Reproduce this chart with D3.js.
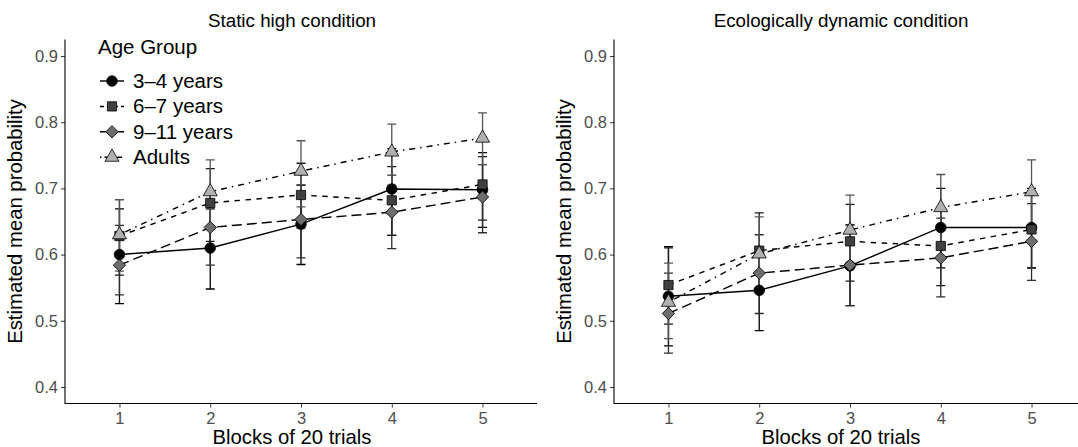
<!DOCTYPE html>
<meta charset="utf-8">
<script src="https://d3js.org/d3.v7.min.js"></script>
<style>
body { margin: 0; background: #fff; }
text { font-family: "Liberation Sans", Arial, sans-serif; }
.axis .tick text { font-size: 16.5px; fill: #4d4d4d; }
.axis .tick line { stroke: #333; }
.title { font-size: 18.8px; fill: #000; }
.axisTitle { font-size: 20.3px; fill: #000; }
</style>
<div id="chart"></div>
<script>
const blocks = [1, 2, 3, 4, 5];
const groups = ["3–4 years", "6–7 years", "9–11 years", "Adults"];
const yTicks = [0.4, 0.5, 0.6, 0.7, 0.8, 0.9];

// Static high condition (rows = age groups, cols = blocks)
const staticMean = [
  [0.600, 0.610, 0.646, 0.699, 0.698],
  [0.628, 0.678, 0.690, 0.682, 0.706],
  [0.584, 0.641, 0.653, 0.664, 0.687],
  [0.630, 0.695, 0.726, 0.755, 0.776]
];
const staticLow = [
  [0.526, 0.548, 0.585, 0.629, 0.641],
  [0.569, 0.620, 0.640, 0.629, 0.652],
  [0.539, 0.584, 0.595, 0.609, 0.633],
  [0.575, 0.640, 0.672, 0.705, 0.736]
];
const staticHigh = [
  [0.669, 0.669, 0.705, 0.760, 0.754],
  [0.683, 0.730, 0.738, 0.733, 0.748],
  [0.644, 0.695, 0.705, 0.720, 0.736],
  [0.683, 0.743, 0.772, 0.797, 0.814]
];

// Ecologically dynamic condition
const dynamicMean = [
  [0.537, 0.546, 0.583, 0.641, 0.641],
  [0.554, 0.606, 0.620, 0.613, 0.638],
  [0.511, 0.572, 0.584, 0.595, 0.620],
  [0.528, 0.601, 0.637, 0.671, 0.695]
];
const dynamicLow = [
  [0.462, 0.485, 0.523, 0.580, 0.580],
  [0.495, 0.548, 0.560, 0.553, 0.580],
  [0.451, 0.511, 0.523, 0.536, 0.561],
  [0.473, 0.545, 0.580, 0.615, 0.642]
];
const dynamicHigh = [
  [0.612, 0.608, 0.645, 0.700, 0.700],
  [0.610, 0.663, 0.676, 0.670, 0.690],
  [0.572, 0.630, 0.645, 0.655, 0.677],
  [0.587, 0.657, 0.690, 0.721, 0.743]
];

// per-group styling
const fills = ["#000000", "#404040", "#6e6e6e", "#b0b0b0"];
const barColors = ["#000000", "#1a1a1a", "#2e2e2e", "#555555"];
const dashes = [null, "5.5,5.5", "10,5", "1.5,5,6,5"];
const keyDashes = [null, "4,3", "6,3", "1.5,3,5,3"];
const shapes = ["circle", "square", "diamond", "triangle"];

const W = 1078, H = 447;
const svg = d3.select("#chart").append("svg")
  .attr("width", W).attr("height", H);

const y = d3.scaleLinear().domain([0.375, 0.925]).range([403.5, 39.5]);

function symbolPath(shape) {
  if (shape === "circle") return d3.symbol().type(d3.symbolCircle).size(88)();
  if (shape === "square") return d3.symbol().type(d3.symbolSquare).size(85)();
  if (shape === "diamond") return d3.symbol().type(d3.symbolSquare).size(76)();
  return d3.symbol().type(d3.symbolTriangle).size(86)();
}
function symbolRot(shape) { return shape === "diamond" ? 45 : 0; }

const panels = [
  {title: "Static high condition", range: [65, 537], titleX: 292,
   mean: staticMean, low: staticLow, high: staticHigh, legend: true},
  {title: "Ecologically dynamic condition", range: [614, 1086], titleX: 841,
   mean: dynamicMean, low: dynamicLow, high: dynamicHigh, legend: false}
];

panels.forEach(p => {
  const x = d3.scaleLinear().domain([0.4, 5.6]).range(p.range);
  const g = svg.append("g");

  // axes
  g.append("g").attr("class", "axis")
    .attr("transform", `translate(0,${y.range()[0]})`)
    .call(d3.axisBottom(x).tickValues(blocks).tickFormat(d3.format("d")).tickSize(4).tickPadding(5))
    .call(a => a.select(".domain").remove());
  g.append("g").attr("class", "axis")
    .attr("transform", `translate(${p.range[0]},0)`)
    .call(d3.axisLeft(y).tickValues(yTicks).tickFormat(d3.format(".1f")).tickSize(4).tickPadding(3))
    .call(a => a.select(".domain").remove());
  g.append("path").attr("fill", "none").attr("stroke", "#000").attr("stroke-width", 1.1)
    .attr("d", `M${p.range[0]},${y.range()[1]}V${y.range()[0]}H${p.range[1]}`);

  // titles
  g.append("text").attr("class", "title")
    .attr("x", p.titleX).attr("y", 27).attr("text-anchor", "middle").text(p.title);
  g.append("text").attr("class", "axisTitle")
    .attr("x", p.titleX).attr("y", 444).attr("text-anchor", "middle").text("Blocks of 20 trials");
  g.append("text").attr("class", "axisTitle")
    .attr("transform", `translate(${p.range[0] - 43},${(y.range()[0] + y.range()[1]) / 2}) rotate(-90)`)
    .attr("text-anchor", "middle").text("Estimated mean probability");

  const line = d3.line().x((d, i) => x(blocks[i])).y(d => y(d));

  // lines
  groups.forEach((grp, gi) => {
    g.append("path").datum(p.mean[gi])
      .attr("d", line).attr("fill", "none")
      .attr("stroke", "#000").attr("stroke-width", 1.45)
      .attr("stroke-dasharray", dashes[gi]);
  });

  // error bars
  groups.forEach((grp, gi) => {
    const eb = g.append("g").attr("stroke", barColors[gi]).attr("stroke-width", 1.3);
    blocks.forEach((b, i) => {
      const cx = x(b), lo = y(p.low[gi][i]), hi = y(p.high[gi][i]);
      eb.append("path").attr("fill", "none")
        .attr("d", `M${cx},${lo}V${hi}M${cx - 4.5},${lo}H${cx + 4.5}M${cx - 4.5},${hi}H${cx + 4.5}`);
    });
  });

  // points
  groups.forEach((grp, gi) => {
    g.append("g").selectAll("path").data(p.mean[gi]).join("path")
      .attr("d", symbolPath(shapes[gi]))
      .attr("transform", (d, i) => `translate(${x(blocks[i])},${y(d)}) rotate(${symbolRot(shapes[gi])})`)
      .attr("fill", fills[gi]).attr("stroke", "#000").attr("stroke-width", 0.8);
  });

  // legend
  if (p.legend) {
    const lg = svg.append("g");
    lg.append("text").attr("x", 98).attr("y", 54).attr("font-size", "20.5px").text("Age Group");
    groups.forEach((grp, gi) => {
      const cy = 81 + gi * 25.4;
      lg.append("line").attr("x1", 100).attr("x2", 124).attr("y1", cy).attr("y2", cy)
        .attr("stroke", "#000").attr("stroke-width", 1.45)
        .attr("stroke-dasharray", keyDashes[gi]);
      lg.append("path").attr("d", symbolPath(shapes[gi]))
        .attr("transform", `translate(112,${cy}) rotate(${symbolRot(shapes[gi])})`)
        .attr("fill", fills[gi]).attr("stroke", "#000").attr("stroke-width", 0.8);
      lg.append("text").attr("x", 133).attr("y", cy + 7).attr("font-size", "20.5px").text(grp);
    });
  }
});
</script>
